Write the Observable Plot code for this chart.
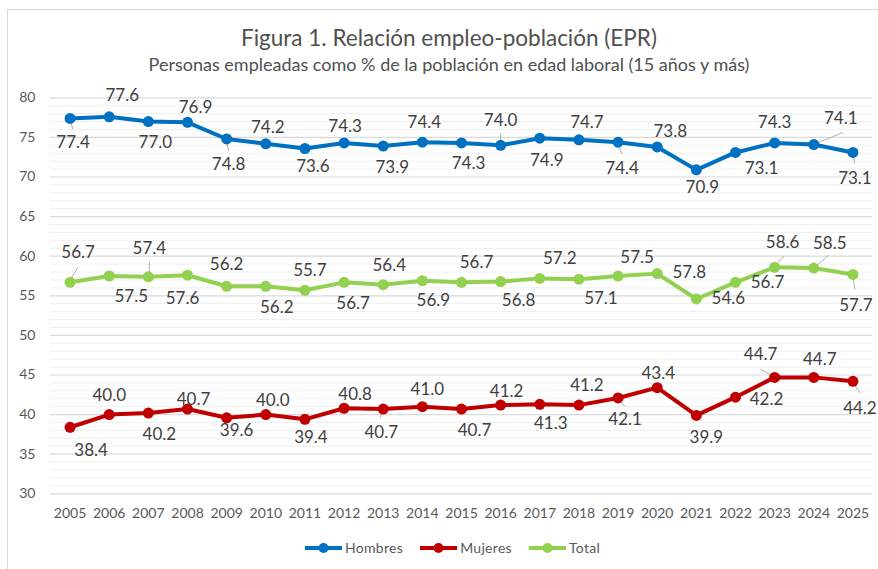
<!DOCTYPE html>
<html>
<head>
<meta charset="utf-8">
<script src="https://cdn.jsdelivr.net/npm/d3@7"></script>
<script src="https://cdn.jsdelivr.net/npm/@observablehq/plot@0.6"></script>
<style>
  html, body { margin: 0; padding: 0; background: #fff; }
  #wrap { position: relative; width: 878px; height: 569px; overflow: hidden; font-family: Lato, "Open Sans", sans-serif; }
  #frame { position: absolute; left: 7px; top: 9px; width: 900px; height: 600px; border-left: 1px solid #d9d9d9; border-top: 1px solid #d9d9d9; box-sizing: border-box; }
  #title { position: absolute; left: 20px; width: 858px; top: 24px; text-align: center; font-size: 22.5px; color: #505050; line-height: 28px; white-space: nowrap; }
  #subtitle { position: absolute; left: 20px; width: 858px; top: 53px; text-align: center; font-size: 18px; color: #505050; line-height: 22px; white-space: nowrap; }
  #chart { position: absolute; left: 0; top: 80px; }
  #legend { position: absolute; left: 305px; top: 539px; display: flex; align-items: center; font-size: 14px; color: #595959; letter-spacing: 0.3px; }
  .item { display: flex; align-items: center; margin-right: 17px; }
  .item svg { margin-right: 3px; }
</style>
</head>
<body>
<div id="wrap">
  <div id="frame"></div>
  <div id="title"></div>
  <div id="subtitle"></div>
  <div id="chart"></div>
  <div id="legend"></div>
</div>
<script>
const titleText = "Figura 1. Relación empleo-población (EPR)";
const subtitleText = "Personas empleadas como % de la población en edad laboral (15 años y más)";

const years = [2005, 2006, 2007, 2008, 2009, 2010, 2011, 2012, 2013, 2014, 2015, 2016, 2017, 2018, 2019, 2020, 2021, 2022, 2023, 2024, 2025];

const seriesNames = ["Hombres", "Mujeres", "Total"];
const seriesColors = ["#0070C0", "#C00000", "#92D050"];

const hombres = [77.4, 77.6, 77.0, 76.9, 74.8, 74.2, 73.6, 74.3, 73.9, 74.4, 74.3, 74.0, 74.9, 74.7, 74.4, 73.8, 70.9, 73.1, 74.3, 74.1, 73.1];
const mujeres = [38.4, 40.0, 40.2, 40.7, 39.6, 40.0, 39.4, 40.8, 40.7, 41.0, 40.7, 41.2, 41.3, 41.2, 42.1, 43.4, 39.9, 42.2, 44.7, 44.7, 44.2];
const total   = [56.7, 57.5, 57.4, 57.6, 56.2, 56.2, 55.7, 56.7, 56.4, 56.9, 56.7, 56.8, 57.2, 57.1, 57.5, 57.8, 54.6, 56.7, 58.6, 58.5, 57.7];

const yTicks = [30, 35, 40, 45, 50, 55, 60, 65, 70, 75, 80];
const yMinorTicks = [31,32,33,34,36,37,38,39,41,42,43,44,46,47,48,49,51,52,53,54,56,57,58,59,61,62,63,64,66,67,68,69,71,72,73,74,76,77,78,79];

// label placement (pixel offsets of label centre from its point)
const hombresLabelOffset = [[3,24],[13,-21],[7,21],[8,-15],[2,26],[2,-16],[8,18],[1,-16],[9,21],[2,-20],[7,21],[0,-25],[7,22],[8,-17],[4,26],[13,-15],[6,18],[26,16],[0,-20],[27,-26],[2,26]];
const mujeresLabelOffset = [[21,23],[0,-19],[11,22],[6,-10],[10,13],[7,-14],[6,18],[11,-14],[-2,23],[5,-17],[13,21],[6,-14],[11,19],[8,-20],[7,22],[1,-14],[10,22],[31,2],[-14,-23],[6,-18],[7,27]];
const totalLabelOffset   = [[8,-30],[22,21],[1,-28],[-5,23],[0,-22],[11,21],[5,-20],[9,21],[6,-19],[11,20],[15,-20],[18,19],[20,-20],[22,19],[19,-18],[32,-1],[32,0],[32,0],[8,-25],[16,-25],[3,31]];

// leader lines: [series, year, startOffset, endOffset] in pixels
const leaders = [
  ["Hombres", 2005, [0,2], [3,11]],
  ["Hombres", 2009, [0,2], [2,12]],
  ["Hombres", 2016, [0,-12], [0,-3]],
  ["Hombres", 2019, [0,2], [4,12]],
  ["Hombres", 2024, [2,-1], [29,-12]],
  ["Hombres", 2025, [0,3], [2,11]],
  ["Total", 2005, [1,-4], [8,-15]],
  ["Total", 2007, [1,-15], [1,-3]],
  ["Total", 2023, [1,-2], [9,-11]],
  ["Total", 2024, [2,-2], [15,-13]],
  ["Total", 2025, [0,3], [2,15]],
  ["Mujeres", 2013, [-1,2], [-3,9]],
  ["Mujeres", 2019, [1,2], [7,9]],
  ["Mujeres", 2023, [-3,-2], [-14,-8]],
  ["Mujeres", 2025, [1,2], [7,12]]
];

// layout
const W = 878, H = 450, mL = 50, mR = 6, mT = 17.3, mB = 36.7;
const xDomain = [years[0] - 0.5, years[years.length - 1] + 0.5];
const yDomain = [30, 80];
const pxPerYear = (W - mL - mR) / (xDomain[1] - xDomain[0]);
const pxPerUnit = (H - mT - mB) / (yDomain[1] - yDomain[0]);

const valuesBySeries = {Hombres: hombres, Mujeres: mujeres, Total: total};
const offsetsBySeries = {Hombres: hombresLabelOffset, Mujeres: mujeresLabelOffset, Total: totalLabelOffset};

const rows = [];
for (const s of seriesNames) {
  valuesBySeries[s].forEach((v, i) => {
    rows.push({series: s, year: years[i], value: v, ox: offsetsBySeries[s][i][0], oy: offsetsBySeries[s][i][1]});
  });
}

const leaderRows = leaders.map(([s, yr, a, b]) => {
  const v = valuesBySeries[s][years.indexOf(yr)];
  return {
    x1: yr + a[0] / pxPerYear, y1: v - a[1] / pxPerUnit,
    x2: yr + b[0] / pxPerYear, y2: v - b[1] / pxPerUnit
  };
});

document.getElementById("title").textContent = titleText;
document.getElementById("subtitle").textContent = subtitleText;

const chart = Plot.plot({
  width: W, height: H,
  marginLeft: mL, marginRight: mR, marginTop: mT, marginBottom: mB,
  style: {fontFamily: "Lato, 'Open Sans', sans-serif", fontSize: "14px", color: "#595959", background: "transparent", overflow: "visible"},
  x: {type: "linear", domain: xDomain, ticks: years, tickFormat: d => String(d), tickSize: 0, tickPadding: 14, label: null},
  y: {domain: yDomain, ticks: yTicks, tickSize: 0, tickPadding: 15, label: null},
  color: {domain: seriesNames, range: seriesColors},
  marks: [
    Plot.ruleY(yMinorTicks, {stroke: "#efefef", strokeWidth: 1}),
    Plot.ruleY(yTicks, {stroke: "#d9d9d9", strokeWidth: 1.2}),
    Plot.link(leaderRows, {x1: "x1", y1: "y1", x2: "x2", y2: "y2", stroke: "#a6a6a6", strokeWidth: 0.9}),
    Plot.line(rows, {x: "year", y: "value", z: "series", stroke: "series", strokeWidth: 4, strokeLinejoin: "round", strokeLinecap: "round"}),
    Plot.dot(rows, {x: "year", y: "value", fill: "series", r: 5.5, stroke: null}),
    Plot.text(rows, {
      x: d => d.year + d.ox / pxPerYear,
      y: d => d.value - d.oy / pxPerUnit,
      text: d => d.value.toFixed(1),
      fill: "#404040", fontSize: 17, textAnchor: "middle", lineAnchor: "middle"
    })
  ]
});
document.getElementById("chart").appendChild(chart);

// legend
const legend = document.getElementById("legend");
seriesNames.forEach((name, i) => {
  const item = document.createElement("div");
  item.className = "item";
  item.innerHTML = `<svg width="37" height="12"><line x1="0" y1="6" x2="37" y2="6" stroke="${seriesColors[i]}" stroke-width="4"/><circle cx="18.5" cy="6" r="5" fill="${seriesColors[i]}"/></svg><span>${name}</span>`;
  legend.appendChild(item);
});
</script>
</body>
</html>
